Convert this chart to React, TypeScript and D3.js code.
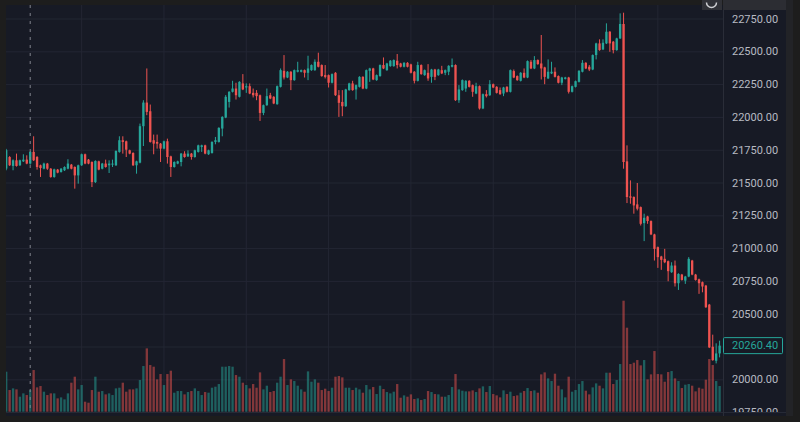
import React from "react";
import * as d3 from "d3";

// candles, left to right
const opens = [
  21610, 21698, 21630, 21673, 21635, 21665, 21678, 21648, 21737, 21698,
  21635, 21609, 21648, 21609, 21546, 21602, 21584, 21597, 21609, 21640,
  21622, 21558, 21635, 21719, 21678, 21660, 21507, 21665, 21609, 21648,
  21635, 21640, 21635, 21737, 21826, 21818, 21749, 21729, 21635, 21655,
  21933, 22113, 22047, 21826, 21813, 21800, 21762, 21818, 21703, 21622,
  21648, 21660, 21724, 21703, 21724, 21698, 21737, 21775, 21787, 21719,
  21729, 21813, 21813, 21915, 21999, 22118, 22195, 22220, 22157, 22259,
  22228, 22238, 22187, 22187, 22169, 22034, 22093, 22169, 22157, 22101,
  22233, 22355, 22304, 22348, 22284, 22348, 22348, 22360, 22340, 22360,
  22360, 22424, 22399, 22322, 22322, 22264, 22340, 22169, 22118, 22085,
  22208, 22259, 22213, 22233, 22309, 22220, 22355, 22373, 22284, 22315,
  22399, 22360, 22391, 22391, 22432, 22411, 22386, 22416, 22404, 22348,
  22279, 22399, 22322, 22340, 22309, 22365, 22322, 22360, 22340, 22348,
  22386, 22399, 22131, 22208, 22220, 22279, 22246, 22182, 22238, 22068,
  22177, 22169, 22253, 22233, 22208, 22182, 22233, 22195, 22353, 22315,
  22279, 22340, 22304, 22424, 22373, 22437, 22411, 22381, 22297, 22335,
  22348, 22315, 22264, 22294, 22304, 22195, 22233, 22271, 22348, 22416,
  22386, 22365, 22475, 22564, 22518, 22564, 22653, 22577, 22513, 22602,
  22712, 21665, 21398, 21393, 21337, 21316, 21194, 21245, 21210, 21108,
  21011, 20940, 20922, 20904, 20820, 20871, 20736, 20802, 20756, 20787,
  20909, 20802, 20766, 20744, 20718, 20573, 20252, 20145, 20201,
];

const highs = [
  21760, 21705, 21680, 21724, 21678, 21719, 21711, 21742, 21856, 21705,
  21640, 21655, 21653, 21614, 21609, 21607, 21614, 21627, 21681, 21645,
  21627, 21640, 21724, 21724, 21683, 21665, 21673, 21670, 21653, 21678,
  21673, 21678, 21749, 21856, 21856, 21823, 21754, 21734, 21670, 21953,
  22131, 22373, 22098, 21869, 21869, 21805, 21823, 21838, 21708, 21665,
  21670, 21729, 21742, 21749, 21729, 21754, 21792, 21792, 21792, 21754,
  21818, 21851, 21925, 22009, 22170, 22200, 22279, 22264, 22276, 22330,
  22259, 22259, 22220, 22208, 22174, 22098, 22220, 22187, 22162, 22243,
  22373, 22475, 22353, 22353, 22365, 22424, 22365, 22365, 22470, 22404,
  22442, 22493, 22404, 22399, 22327, 22335, 22345, 22208, 22208, 22218,
  22264, 22279, 22251, 22314, 22314, 22365, 22378, 22378, 22327, 22404,
  22457, 22416, 22437, 22442, 22483, 22416, 22421, 22421, 22409, 22353,
  22424, 22404, 22365, 22406, 22370, 22370, 22370, 22393, 22365, 22398,
  22449, 22404, 22246, 22289, 22284, 22284, 22251, 22264, 22243, 22182,
  22208, 22284, 22258, 22238, 22228, 22233, 22238, 22365, 22365, 22320,
  22345, 22373, 22434, 22437, 22467, 22442, 22628, 22386, 22442, 22424,
  22381, 22320, 22309, 22309, 22309, 22243, 22281, 22360, 22437, 22421,
  22399, 22480, 22569, 22595, 22595, 22717, 22658, 22582, 22607, 22793,
  22798, 21787, 21520, 21398, 21500, 21321, 21266, 21250, 21215, 21113,
  21016, 20945, 20998, 20909, 20896, 20909, 20812, 20807, 20792, 20935,
  20914, 20807, 20771, 20749, 20723, 20578, 20344, 20278, 20298,
];

const lows = [
  21597, 21630, 21597, 21625, 21630, 21660, 21643, 21640, 21668, 21602,
  21546, 21604, 21600, 21540, 21540, 21574, 21579, 21592, 21604, 21604,
  21457, 21495, 21630, 21643, 21643, 21469, 21500, 21597, 21604, 21617,
  21576, 21622, 21630, 21731, 21724, 21698, 21719, 21630, 21571, 21650,
  21782, 22017, 21808, 21719, 21762, 21660, 21757, 21648, 21546, 21617,
  21643, 21627, 21693, 21698, 21678, 21693, 21732, 21737, 21719, 21714,
  21724, 21795, 21808, 21856, 21994, 22075, 22190, 22136, 22152, 22208,
  22187, 22177, 22152, 22131, 21973, 22017, 22088, 22139, 22101, 22096,
  22228, 22289, 22299, 22208, 22279, 22343, 22343, 22304, 22284, 22355,
  22355, 22381, 22310, 22297, 22228, 22259, 22164, 22004, 22009, 22080,
  22203, 22203, 22136, 22228, 22215, 22215, 22271, 22284, 22279, 22310,
  22368, 22355, 22386, 22386, 22373, 22381, 22381, 22381, 22335, 22259,
  22274, 22325, 22317, 22279, 22264, 22284, 22317, 22330, 22322, 22322,
  22381, 22126, 22111, 22203, 22195, 22228, 22157, 22177, 22060, 22063,
  22152, 22164, 22223, 22182, 22172, 22162, 22190, 22190, 22299, 22279,
  22274, 22299, 22299, 22368, 22368, 22401, 22289, 22253, 22292, 22330,
  22304, 22259, 22246, 22289, 22182, 22190, 22228, 22266, 22343, 22368,
  22353, 22360, 22442, 22508, 22513, 22559, 22500, 22488, 22508, 22597,
  21609, 21347, 21342, 21266, 21291, 21176, 21057, 21189, 21103, 20909,
  20853, 20838, 20889, 20751, 20815, 20711, 20685, 20756, 20731, 20782,
  20797, 20756, 20655, 20667, 20548, 20242, 20145, 20125, 20171,
];

const closes = [
  21750, 21635, 21673, 21630, 21673, 21678, 21648, 21737, 21673, 21622,
  21614, 21648, 21609, 21546, 21604, 21579, 21609, 21622, 21648, 21609,
  21558, 21635, 21719, 21648, 21648, 21507, 21668, 21602, 21648, 21622,
  21648, 21648, 21744, 21826, 21813, 21754, 21724, 21635, 21665, 21933,
  22113, 22042, 21813, 21800, 21800, 21762, 21818, 21698, 21622, 21660,
  21665, 21724, 21698, 21724, 21698, 21749, 21787, 21787, 21724, 21749,
  21813, 21826, 21920, 22004, 22157, 22195, 22220, 22169, 22271, 22213,
  22238, 22182, 22169, 22162, 22034, 22093, 22162, 22144, 22106, 22238,
  22360, 22304, 22348, 22284, 22360, 22360, 22360, 22340, 22373, 22399,
  22424, 22386, 22315, 22309, 22264, 22330, 22169, 22111, 22085, 22213,
  22259, 22208, 22246, 22309, 22220, 22360, 22373, 22289, 22322, 22399,
  22373, 22411, 22432, 22437, 22399, 22386, 22416, 22386, 22340, 22279,
  22399, 22330, 22360, 22297, 22365, 22309, 22365, 22335, 22360, 22393,
  22399, 22131, 22213, 22284, 22279, 22233, 22195, 22238, 22068, 22177,
  22162, 22253, 22228, 22187, 22177, 22228, 22195, 22360, 22304, 22284,
  22340, 22304, 22429, 22373, 22437, 22406, 22373, 22309, 22348, 22348,
  22309, 22264, 22304, 22304, 22195, 22238, 22276, 22355, 22416, 22373,
  22365, 22475, 22564, 22513, 22569, 22653, 22564, 22513, 22602, 22712,
  21660, 21393, 21388, 21329, 21304, 21189, 21235, 21210, 21108, 20998,
  20935, 20914, 20896, 20828, 20871, 20736, 20807, 20761, 20787, 20922,
  20802, 20761, 20736, 20711, 20553, 20247, 20150, 20201, 20260.4,
];

const volumes = [
  120, 65, 70, 67, 45, 55, 50, 65, 125, 73,
  77, 60, 50, 55, 55, 40, 43, 37, 55, 87,
  105, 67, 80, 30, 27, 65, 105, 60, 62, 52,
  55, 50, 70, 72, 87, 60, 67, 67, 70, 95,
  137, 190, 140, 135, 97, 113, 80, 113, 123, 57,
  62, 62, 52, 59, 62, 70, 62, 50, 59, 57,
  72, 75, 83, 135, 135, 137, 135, 110, 105, 87,
  80, 70, 83, 72, 118, 67, 78, 59, 62, 87,
  105, 158, 80, 97, 92, 78, 67, 60, 121, 90,
  97, 87, 65, 69, 62, 72, 105, 107, 103, 72,
  72, 65, 72, 67, 57, 80, 67, 74, 53, 78,
  68, 59, 55, 60, 83, 42, 49, 45, 52, 38,
  40, 35, 38, 62, 59, 53, 52, 45, 45, 50,
  74, 113, 67, 63, 61, 61, 64, 59, 70, 76,
  59, 77, 53, 49, 43, 64, 53, 60, 47, 49,
  57, 62, 71, 62, 64, 57, 112, 118, 100, 92,
  114, 78, 67, 43, 105, 60, 65, 83, 92, 63,
  52, 73, 85, 78, 70, 117, 117, 83, 95, 143,
  333, 252, 143, 147, 155, 139, 155, 97, 112, 182,
  113, 112, 90, 119, 122, 100, 92, 71, 81, 83,
  78, 61, 72, 69, 96, 158, 140, 92, 77,
];

const priceTicks = [
  19750, 20000, 20250, 20500, 20750, 21000, 21250, 21500, 21750, 22000,
  22250, 22500, 22750,
];
const sessionStarts = [22, 46, 70, 94, 118, 142, 166, 190];
const markerIndex = 7;
const lastPrice = 20260.4;

const UP = "#26a69a";
const DOWN = "#ef5350";
const UP_VOL = "rgba(38,166,154,0.5)";
const DOWN_VOL = "rgba(239,83,80,0.5)";
const BG = "#171a25";
const FRAME = "#1d1d1d";
const GRID = "#232633";
const TEXT = "#b8bbc3";

const paneLeft = 6;
const paneTop = 5;
const paneRight = 723;
const paneBottom = 412;
const axisRight = 786;

export default function App() {
  const n = closes.length;
  const x = d3.scaleLinear().domain([0, n - 1]).range([6.2, 719.6]);
  const y = d3.scaleLinear().domain([20000, 22750]).range([379.8, 19]);
  const v = d3
    .scaleLinear()
    .domain([0, d3.max(volumes) as number])
    .range([411.7, 300.7]);
  const step = x(1) - x(0);
  const bw = step * 0.68;
  const fmt = d3.format(".2f");

  return (
    <div style={{ position: "fixed", left: 0, top: 0 }}>
      <svg width={800} height={422} style={{ display: "block" }}>
        <defs>
          <clipPath id="pane">
            <rect x={paneLeft} y={paneTop} width={paneRight - paneLeft} height={paneBottom - paneTop} />
          </clipPath>
          <clipPath id="axis">
            <rect x={paneRight} y={paneTop} width={axisRight - paneRight} height={paneBottom - paneTop} />
          </clipPath>
        </defs>

        <rect x={0} y={0} width={800} height={422} fill={FRAME} />
        <rect x={paneLeft} y={paneTop} width={axisRight - paneLeft} height={416 - paneTop} fill={BG} />

        <g clipPath="url(#pane)">
          {/* grid */}
          {priceTicks.map((t) => (
            <line key={"h" + t} x1={paneLeft} x2={paneRight} y1={y(t)} y2={y(t)} stroke={GRID} strokeWidth={1} />
          ))}
          {sessionStarts.map((i) => (
            <line key={"v" + i} x1={x(i)} x2={x(i)} y1={paneTop} y2={paneBottom} stroke={GRID} strokeWidth={1} />
          ))}

          {/* volume */}
          {volumes.map((vol, i) => (
            <rect
              key={"vol" + i}
              x={x(i) - bw / 2}
              y={v(vol)}
              width={bw}
              height={v(0) - v(vol)}
              fill={closes[i] >= opens[i] ? UP_VOL : DOWN_VOL}
            />
          ))}

          {/* candles */}
          {closes.map((c, i) => {
            const o = opens[i];
            const col = c >= o ? UP : DOWN;
            const top = y(Math.max(o, c));
            const bot = y(Math.min(o, c));
            return (
              <g key={"c" + i}>
                <line x1={x(i)} x2={x(i)} y1={y(highs[i])} y2={y(lows[i])} stroke={col} strokeWidth={1} />
                <rect x={x(i) - bw / 2} y={top} width={bw} height={Math.max(1, bot - top)} fill={col} />
              </g>
            );
          })}

          {/* marker */}
          <line
            x1={x(markerIndex)}
            x2={x(markerIndex)}
            y1={paneTop}
            y2={paneBottom}
            stroke="#80838d"
            strokeWidth={1}
            strokeDasharray="3 5"
          />
        </g>

        <line x1={paneLeft} x2={axisRight} y1={paneBottom + 0.5} y2={paneBottom + 0.5} stroke="#262a36" />
        <line x1={paneRight + 0.5} x2={paneRight + 0.5} y1={paneTop} y2={416} stroke="#2a2d38" />

        {/* price axis */}
        <g clipPath="url(#axis)" fontFamily="Roboto, sans-serif" fontSize={11} fill={TEXT}>
          {priceTicks.map((t) => (
            <text key={"t" + t} x={732} y={y(t)} dominantBaseline="central">
              {fmt(t)}
            </text>
          ))}
          <rect x={723.5} y={y(lastPrice) - 8} width={59} height={16} fill={BG} stroke={UP} strokeWidth={1} rx={1} />
          <text x={732} y={y(lastPrice)} dominantBaseline="central" fill={UP}>
            {fmt(lastPrice)}
          </text>
        </g>

        {/* top-right controls and right strip */}
        <rect x={723} y={0} width={63} height={10} fill="#2c2d33" />
        <rect x={702} y={0} width={20} height={10} fill="#303137" />
        <path d="M706.5 2.5 A5 5 0 0 0 716.5 2.5" fill="none" stroke="#cfd0d4" strokeWidth={1.5} />
        <rect x={786} y={0} width={7} height={416} fill="#222327" />
      </svg>
    </div>
  );
}
